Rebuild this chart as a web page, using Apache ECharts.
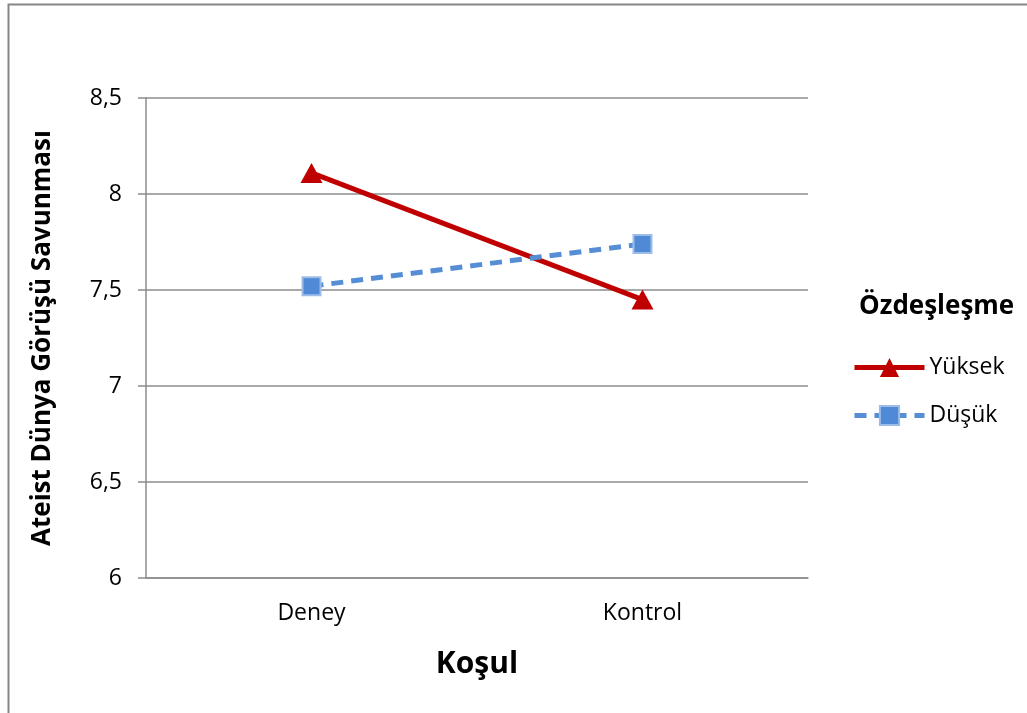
<!DOCTYPE html>
<html>
<head>
<meta charset="utf-8">
<title>Ateist Dünya Görüşü Savunması</title>
<script src="https://cdn.jsdelivr.net/npm/echarts@6/dist/echarts.min.js"></script>
<style>
  html, body { margin: 0; padding: 0; background: #fff; }
  #chart { width: 1027px; height: 713px; }
</style>
</head>
<body>
<div id="chart"></div>
<script>
// Conditions on the x axis
const categories = ['Deney', 'Kontrol'];
// Mean defence scores per identification level
const yuksekValues = [8.11, 7.45];
const dusukValues = [7.52, 7.74];
// Value axis range
const yMin = 6;
const yMax = 8.5;
const yStep = 0.5;

const FONT = '"Open Sans", "Noto Sans", sans-serif';
const GRID_GRAY = '#8c8c8c';

const chart = echarts.init(document.getElementById('chart'));
chart.setOption({
  backgroundColor: '#ffffff',
  animation: false,
  textStyle: { fontFamily: FONT },
  graphic: [
    {
      type: 'rect',
      shape: { x: 8.5, y: 4.5, width: 1200, height: 900 },
      style: { fill: 'none', stroke: '#868686', lineWidth: 2 },
      silent: true
    },
    {
      type: 'text',
      left: 859,
      top: 294,
      style: {
        text: 'Özdeşleşme',
        font: 'bold 26px ' + FONT,
        fill: '#000'
      }
    }
  ],
  grid: { left: 146, right: 219, top: 98, bottom: 135, containLabel: false },
  legend: {
    orient: 'vertical',
    left: 852,
    top: 356,
    padding: 0,
    itemWidth: 70,
    itemHeight: 24,
    itemGap: 25,
    lineStyle: { width: 5 },
    textStyle: { fontFamily: FONT, fontSize: 23, color: '#000' },
    data: ['Yüksek', 'Düşük']
  },
  xAxis: {
    type: 'category',
    data: categories,
    boundaryGap: true,
    axisLine: { lineStyle: { color: GRID_GRAY, width: 1.5 } },
    axisTick: { show: false },
    axisLabel: { color: '#000', fontSize: 23, fontFamily: FONT, margin: 24 },
    name: 'Koşul',
    nameLocation: 'middle',
    nameGap: 71,
    nameTextStyle: { color: '#000', fontSize: 30, fontWeight: 'bold', fontFamily: FONT }
  },
  yAxis: {
    type: 'value',
    min: yMin,
    max: yMax,
    interval: yStep,
    axisLine: { show: true, lineStyle: { color: GRID_GRAY, width: 1.5 } },
    axisTick: { show: true, length: 8, lineStyle: { color: GRID_GRAY, width: 1.5 } },
    splitLine: { show: true, lineStyle: { color: GRID_GRAY, width: 1.5 } },
    axisLabel: {
      color: '#000',
      fontSize: 23,
      fontFamily: FONT,
      margin: 24,
      formatter: v => String(v).replace('.', ',')
    },
    name: 'Ateist Dünya Görüşü Savunması',
    nameLocation: 'middle',
    nameGap: 90,
    nameRotate: 90,
    nameTextStyle: { color: '#000', fontSize: 26, fontWeight: 'bold', fontFamily: FONT }
  },
  series: [
    {
      name: 'Yüksek',
      type: 'line',
      data: yuksekValues,
      symbol: 'triangle',
      symbolSize: [22, 20],
      color: '#c00000',
      lineStyle: { color: '#c00000', width: 5 },
      itemStyle: { color: '#c00000' }
    },
    {
      name: 'Düşük',
      type: 'line',
      data: dusukValues,
      symbol: 'rect',
      symbolSize: 18,
      color: '#558ed5',
      lineStyle: { color: '#558ed5', width: 5, type: [12, 8] },
      itemStyle: { color: '#5089d6', borderColor: '#9dbde9', borderWidth: 2 }
    }
  ]
});
</script>
</body>
</html>
